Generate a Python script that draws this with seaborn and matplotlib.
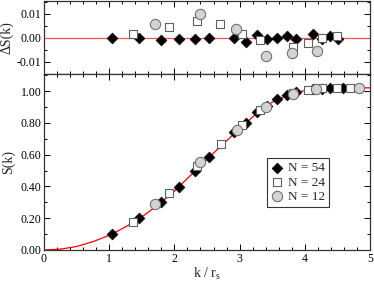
import pandas as pd
import seaborn as sns
import matplotlib.pyplot as plt
from matplotlib.ticker import MultipleLocator

# --- data ---
# fitted curve S(k)
k_fit = [0.0, 0.25, 0.5, 0.75, 1.0, 1.25, 1.5, 1.75, 2.0, 2.25, 2.5, 2.75,
         3.0, 3.25, 3.5, 3.75, 4.0, 4.25, 4.5, 4.75, 5.0]
s_fit = [0.0, 0.005, 0.022, 0.052, 0.092, 0.145, 0.208, 0.283, 0.370, 0.470,
         0.570, 0.668, 0.762, 0.855, 0.930, 0.978, 1.003, 1.014, 1.018, 1.02, 1.02]

# N = 54
k_54 = [1.04, 1.46, 1.79, 2.07, 2.32, 2.53, 2.92, 3.10, 3.26, 3.42, 3.57,
        3.72, 3.86, 4.13, 4.26, 4.39, 4.59]
s_54 = [0.100, 0.203, 0.300, 0.398, 0.497, 0.587, 0.744, 0.797, 0.868, 0.905,
        0.948, 0.975, 0.996, 1.010, 1.014, 1.020, 1.020]
dk_54 = [1.04, 1.46, 1.79, 2.07, 2.32, 2.53, 2.92, 3.10, 3.26, 3.42, 3.57,
         3.72, 3.86, 4.13, 4.26, 4.39, 4.51]
ds_54 = [0.0, 0.0, -0.0008, -0.0006, -0.0006, 0.0, 0.0, -0.0018, 0.001,
         -0.0006, 0.0, 0.0006, -0.0006, 0.0014, -0.0006, 0.0008, -0.0004]

# N = 24
k_24 = [1.36, 1.92, 2.34, 2.71, 3.03, 3.32, 3.82, 4.05, 4.27, 4.49, 4.69]
s_24 = [0.178, 0.357, 0.528, 0.665, 0.786, 0.880, 0.985, 1.006, 1.016, 1.020, 1.020]
dk_24 = [1.36, 1.92, 2.34, 2.70, 3.03, 3.31, 3.82, 4.05, 4.27, 4.49]
ds_24 = [0.0017, 0.0044, 0.0072, 0.0056, 0.0017, -0.0008, -0.0039, -0.0022,
         0.0, 0.0006]

# N = 12
k_12 = [1.70, 2.40, 2.96, 3.41, 3.82, 4.17, 4.83]
s_12 = [0.287, 0.555, 0.755, 0.900, 0.980, 1.010, 1.018]
dk_12 = [1.70, 2.40, 2.95, 3.40, 3.81, 4.18]
ds_12 = [0.0058, 0.0100, 0.0037, -0.0074, -0.0064, -0.0056]

sns.set_theme(style="ticks")
plt.rcParams['font.family'] = ['Liberation Serif', 'DejaVu Serif']
plt.rcParams['mathtext.fontset'] = 'custom'
plt.rcParams['mathtext.rm'] = 'Liberation Serif'
plt.rcParams['mathtext.it'] = 'Liberation Serif:italic'

fig = plt.figure(figsize=(3.74, 2.82), dpi=100)
ax_top = fig.add_axes([0.1176, 0.7376, 0.8717, 0.2589])
ax_bot = fig.add_axes([0.1176, 0.1135, 0.8717, 0.6241])

diam = dict(marker='D', color='black', edgecolor='black', s=30, linewidth=0.5)
sq = dict(marker='s', color='white', edgecolor='#606060', s=38, linewidth=0.8)
circ = dict(marker='o', color='#d3d3d3', edgecolor='#707070', s=55, linewidth=0.8)

# --- bottom panel ---
sns.lineplot(x=k_fit, y=s_fit, ax=ax_bot, color='red', linewidth=0.9, zorder=1)
sns.scatterplot(x=k_54, y=s_54, ax=ax_bot, label='N = 54', zorder=3, **diam)
sns.scatterplot(x=k_24, y=s_24, ax=ax_bot, label='N = 24', zorder=4, **sq)
sns.scatterplot(x=k_12, y=s_12, ax=ax_bot, label='N = 12', zorder=5, **circ)

# --- top panel ---
ax_top.axhline(0, color='#ff5050', linewidth=0.9, zorder=1)
sns.scatterplot(x=dk_54, y=ds_54, ax=ax_top, zorder=3, **diam)
sns.scatterplot(x=dk_24, y=ds_24, ax=ax_top, zorder=4, **sq)
sns.scatterplot(x=dk_12, y=ds_12, ax=ax_top, zorder=5, **circ)

for ax in (ax_top, ax_bot):
    ax.set_xlim(0, 5)
    ax.xaxis.set_major_locator(MultipleLocator(1))
    ax.xaxis.set_minor_locator(MultipleLocator(0.2))
    ax.tick_params(which='both', direction='in', top=True, right=True,
                   labelsize=8.5, colors='black', pad=2)
    ax.tick_params(which='major', length=4, width=0.7)
    ax.tick_params(which='minor', length=2, width=0.7)
    for sp in ax.spines.values():
        sp.set_color('#333333')
        sp.set_linewidth(0.9)

ax_top.set_ylim(-0.015, 0.0153)
ax_top.yaxis.set_major_locator(MultipleLocator(0.01))
ax_top.yaxis.set_minor_locator(MultipleLocator(0.005))
ax_top.set_yticks([-0.01, 0.0, 0.01])
ax_top.set_yticklabels(['-0.01', '0.00', '0.01'])
ax_top.tick_params(labelbottom=False)
ax_top.set_ylabel('ΔS(k)', fontsize=10, labelpad=2)

ax_bot.set_ylim(0, 1.107)
ax_bot.yaxis.set_major_locator(MultipleLocator(0.2))
ax_bot.yaxis.set_minor_locator(MultipleLocator(0.1))
ax_bot.set_yticks([0, 0.2, 0.4, 0.6, 0.8, 1.0])
ax_bot.set_yticklabels(['0.00', '0.20', '0.40', '0.60', '0.80', '1.00'])
ax_bot.set_ylabel('S(k)', fontsize=10, labelpad=4)
ax_bot.set_xlabel(r'k / r$_{\rm s}$', fontsize=10, labelpad=1)

fig.align_ylabels([ax_top, ax_bot])

leg = ax_bot.legend(loc='lower left', bbox_to_anchor=(0.683, 0.245),
                    fontsize=9.5, frameon=True, fancybox=False, handletextpad=0.3,
                    borderpad=0.3, labelspacing=0.15, handlelength=1.0,
                    borderaxespad=0)
leg.get_frame().set_edgecolor('black')
leg.get_frame().set_linewidth(0.8)

plt.savefig('out.png', dpi=100)
